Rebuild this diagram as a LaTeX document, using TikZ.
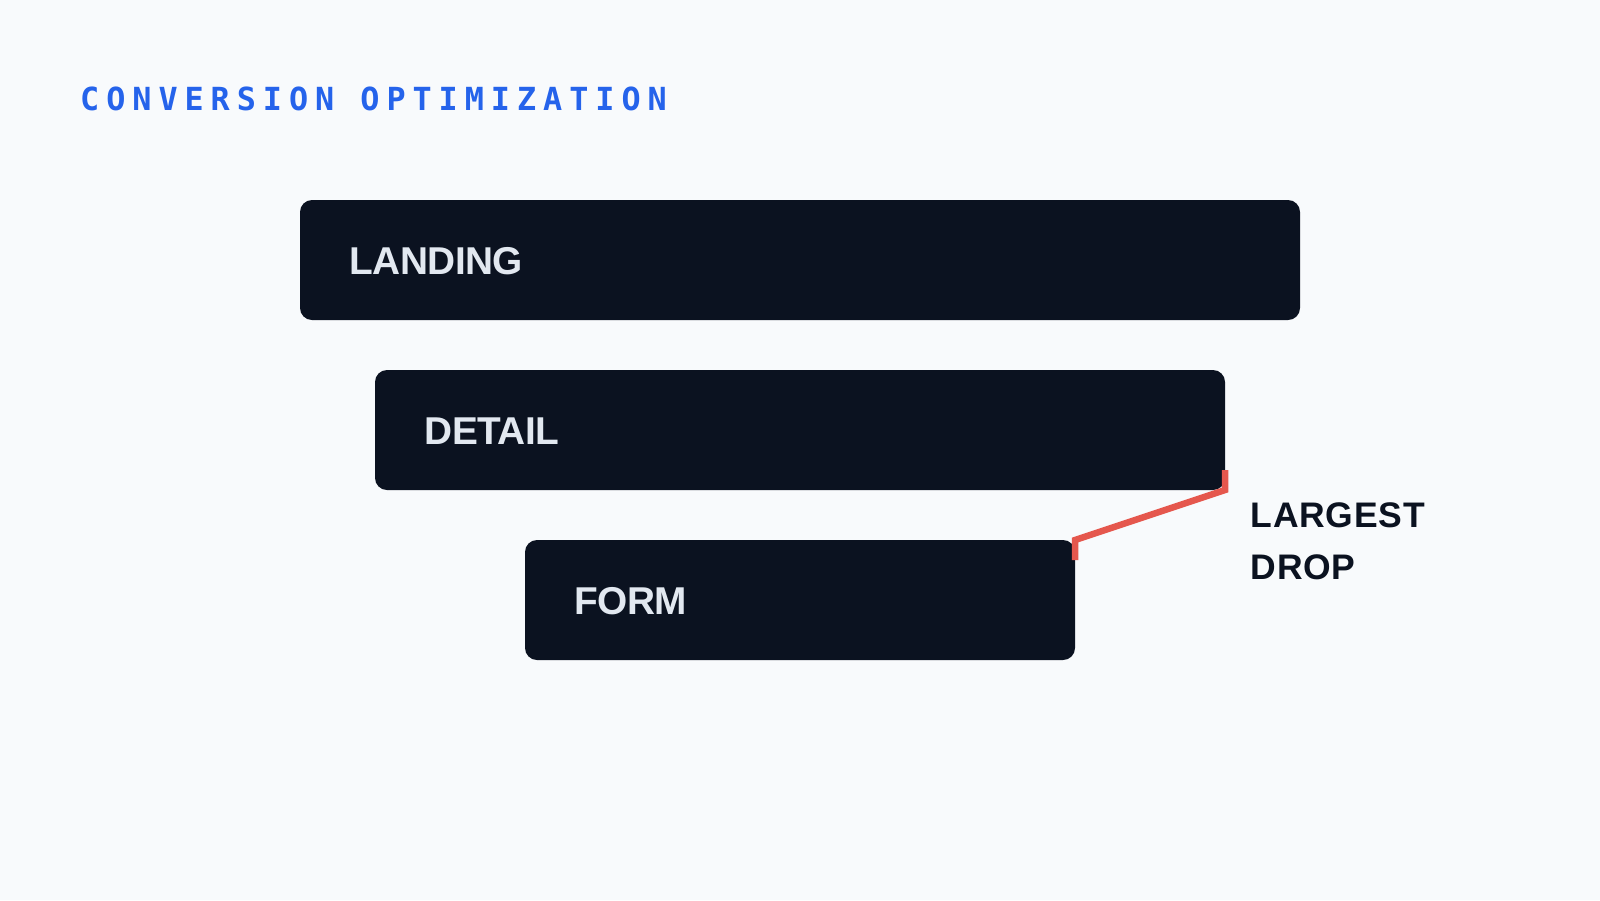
\documentclass[tikz,border=0pt]{standalone}
\usepackage{fontspec}
\usetikzlibrary{calc}
\newfontfamily\titlefont[LetterSpace=21.9]{DejaVu Sans Mono Bold}
\newfontfamily\boxfont[LetterSpace=-1.4]{Liberation Sans Bold}
\newfontfamily\notefont[LetterSpace=2]{Liberation Sans Bold}
\definecolor{bgc}{HTML}{F8FAFC}
\definecolor{boxc}{HTML}{0B1220}
\definecolor{boxtext}{HTML}{E2E8F0}
\definecolor{titlec}{HTML}{2563EB}
\definecolor{dropc}{HTML}{E5574D}
\definecolor{notec}{HTML}{0B1220}
\begin{document}
\begin{tikzpicture}[x=1pt,y=-1pt,
  stage/.style={fill=boxc, rounded corners=12pt, anchor=north west,
    minimum height=120pt, inner xsep=49.5pt, inner ysep=0pt, outer sep=0pt,
    text height=29.5pt, text depth=0pt,
    align=left, text=boxtext, font=\boxfont\fontsize{38.8}{46}\selectfont},
  titletext/.style={anchor=base west, inner sep=0pt, text=titlec,
    font=\titlefont\fontsize{31.8}{38}\selectfont},
  notetext/.style={anchor=north west, inner sep=0pt, align=left, text=notec,
    font=\notefont\fontsize{35.5}{51.6}\selectfont},
  dropline/.style={draw=dropc, line width=6.5pt, line cap=butt, line join=miter}]
\fill[bgc] (0,0) rectangle (1600,900);
\useasboundingbox (0,0) rectangle (1600,900);
\node[titletext] (title) at (80,110) {CONVERSION OPTIMIZATION};
\node[stage, text width=901pt] (landing) at (300,200) {LANDING};
\node[stage, text width=751pt] (detail) at (375,370) {DETAIL};
\node[stage, text width=451pt] (form) at (525,540) {FORM};
\coordinate (droptop) at ($(detail.south east)+(0,-20)$);
\coordinate (dropbot) at ($(form.north east)+(0,20)$);
\draw[dropline] (droptop) -- (detail.south east) -- (form.north east) -- (dropbot);
\node[notetext] (note) at (1250.7,502.5) {LARGEST\\DROP};
\end{tikzpicture}
\end{document}
